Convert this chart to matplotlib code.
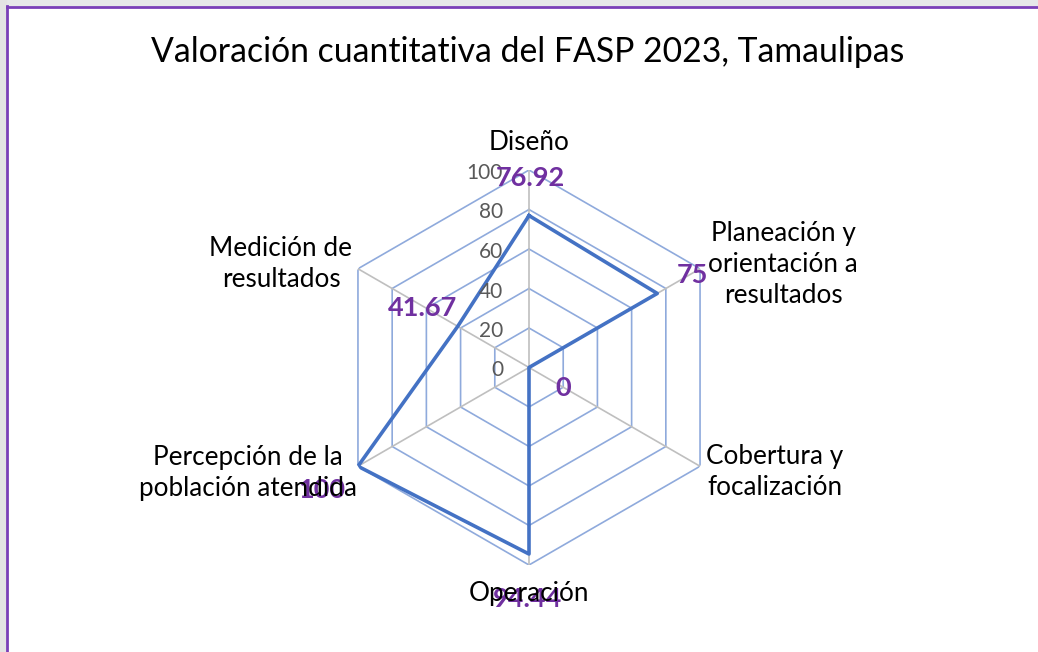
import numpy as np
import matplotlib
matplotlib.use('Agg')
import matplotlib.pyplot as plt
from matplotlib.patches import Rectangle

plt.rcParams['font.family'] = ['Lato', 'DejaVu Sans']

title = 'Valoración cuantitativa del FASP 2023, Tamaulipas'
categories = ['Diseño', 'Planeación y\norientación a\nresultados', 'Cobertura y\nfocalización',
              'Operación', 'Percepción de la\npoblación atendida', 'Medición de\nresultados']
values = [76.92, 75, 0, 94.44, 100, 41.67]
value_text = ['76.92', '75', '0', '94.44', '100', '41.67']
rticks = [0, 20, 40, 60, 80, 100]

# label offsets in pixels from the point they belong to
cat_offsets = [(0, 27), (83, 4), (75, -6), (0, -28), (-110, -7), (-77, 5)]
val_offsets = [(1, 38), (35, 18), (34, -21), (-1, -45), (-36, -24), (-35, 18)]


def main():
	W, H = 1038, 652
	fig = plt.figure(figsize=(W / 100., H / 100.), dpi=100, facecolor='white')

	# window chrome: grey strip and purple frame on top and left
	fig.patches.append(Rectangle((0, 1 - 6. / H), 1, 6. / H, transform=fig.transFigure, color='#e6e7e9', zorder=0))
	fig.patches.append(Rectangle((0, 0), 6. / W, 1, transform=fig.transFigure, color='#e3e3e3', zorder=0))
	fig.add_artist(plt.Line2D([6.5 / W, 1], [1 - 7. / H, 1 - 7. / H], transform=fig.transFigure, color='#7a3fb8', lw=2))
	fig.add_artist(plt.Line2D([7. / W, 7. / W], [0, 1 - 6. / H], transform=fig.transFigure, color='#7a3fb8', lw=2))

	cx, cy, R = 529., 367.5, 197.5
	ax = fig.add_axes([(cx - R) / W, (H - cy - R) / H, 2 * R / W, 2 * R / H], projection='polar')
	ax.set_theta_zero_location('N')
	ax.set_theta_direction(-1)
	ax.set_ylim(0, 100)
	ax.grid(False)
	ax.set_xticks([])
	ax.set_yticks([])
	ax.spines['polar'].set_visible(False)
	ax.patch.set_alpha(0)

	N = len(values)
	theta = np.arange(N) * 2 * np.pi / N
	closed = np.append(theta, theta[0])

	# hexagonal rings and spokes
	for r in rticks[1:]:
		ax.plot(closed, [r] * (N + 1), color='#8faadc', lw=1.2, zorder=1)
	for t in theta:
		ax.plot([t, t], [0, 100], color='#bfbfbf', lw=1.2, zorder=2)

	ax.plot(closed, values + [values[0]], color='#4472c4', lw=2.6, zorder=3)

	for r in rticks:
		ax.annotate(str(r), xy=(0, r), xytext=(-26, -3), textcoords='offset pixels',
			ha='right', va='center', fontsize=15, color='#595959', zorder=4, annotation_clip=False)

	for t, v, s, off in zip(theta, values, value_text, val_offsets):
		ax.annotate(s, xy=(t, v), xytext=off, textcoords='offset pixels', ha='center', va='center',
			fontsize=19.5, fontweight='bold', color='#7030a0', zorder=5, annotation_clip=False)

	for t, c, off in zip(theta, categories, cat_offsets):
		ax.annotate(c, xy=(t, 100), xytext=off, textcoords='offset pixels', ha='center', va='center',
			fontsize=18.8, color='black', linespacing=1.3, zorder=6, annotation_clip=False)

	fig.text(528. / W, 1 - 52. / H, title, ha='center', va='center', fontsize=24.3, color='black')

	fig.savefig('out.png', dpi=100)


if __name__ == '__main__':
	main()
